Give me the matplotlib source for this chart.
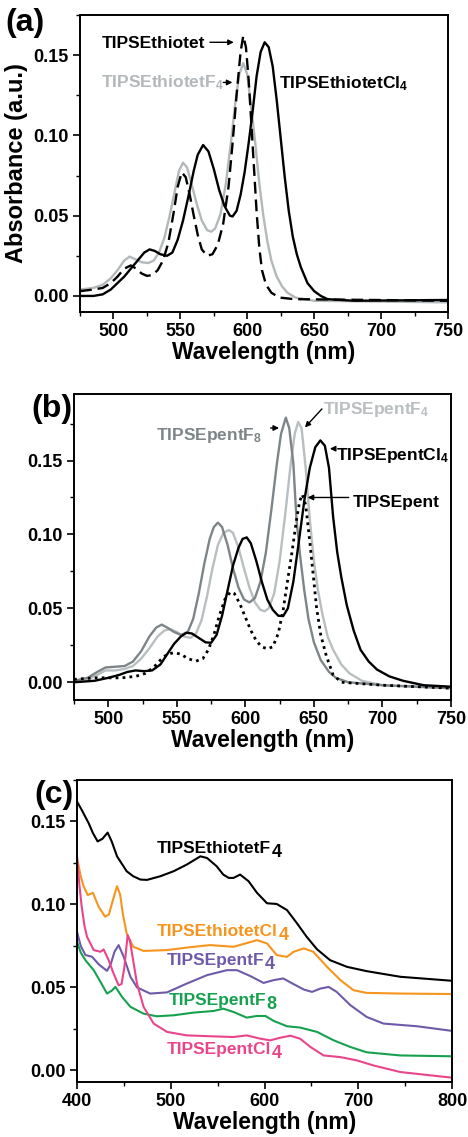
import numpy as np
import matplotlib
matplotlib.use("Agg")
import matplotlib.pyplot as plt
from matplotlib.ticker import MultipleLocator, FormatStrFormatter

plt.rcParams['font.family'] = ['Liberation Sans', 'DejaVu Sans']
plt.rcParams['font.weight'] = 'bold'
plt.rcParams['mathtext.fontset'] = 'custom'
plt.rcParams['mathtext.rm'] = 'Liberation Sans:bold'
plt.rcParams['mathtext.it'] = 'Liberation Sans:bold'
plt.rcParams['mathtext.bf'] = 'Liberation Sans:bold'
plt.rcParams['mathtext.default'] = 'rm'

# ---- panel (a) data ----
a_cl4_x = [475, 485, 492, 498, 503, 508, 513, 518, 523, 527, 531, 535, 540, 544, 548, 552, 556, 560, 563, 567,
           571, 575, 579, 583, 587, 589, 592, 595, 598, 601, 604, 607, 610, 613, 616, 619, 622, 625, 628, 631,
           634, 637, 640, 645, 650, 655, 660, 680, 750]
a_cl4_y = [0.000, 0.000, 0.001, 0.004, 0.008, 0.012, 0.017, 0.022, 0.027, 0.029, 0.028, 0.026, 0.025, 0.027,
           0.035, 0.047, 0.062, 0.078, 0.088, 0.094, 0.090, 0.079, 0.066, 0.056, 0.050, 0.0495, 0.053, 0.063,
           0.077, 0.095, 0.115, 0.137, 0.152, 0.158, 0.155, 0.143, 0.122, 0.098, 0.074, 0.053, 0.037, 0.026,
           0.018, 0.008, 0.003, 0.000, -0.002, -0.003, -0.0025]
a_pure_x = [475, 485, 492, 498, 503, 508, 513, 517, 521, 525, 529, 533, 537, 541, 545, 548, 551, 554, 557, 560,
            563, 566, 570, 574, 578, 582, 586, 589, 592, 595, 597, 599, 601, 603, 605, 607, 609, 611, 614, 618,
            624, 635, 750]
a_pure_y = [0.003, 0.004, 0.005, 0.008, 0.012, 0.017, 0.019, 0.017, 0.014, 0.0125, 0.013, 0.016, 0.022, 0.033,
            0.052, 0.068, 0.077, 0.074, 0.063, 0.050, 0.038, 0.029, 0.025, 0.026, 0.032, 0.045, 0.068, 0.095,
            0.125, 0.152, 0.162, 0.155, 0.135, 0.108, 0.080, 0.052, 0.030, 0.016, 0.007, 0.002, -0.001, -0.002,
            -0.003]
a_f4_x = [475, 485, 492, 498, 503, 508, 512, 516, 521, 526, 530, 534, 538, 542, 546, 549, 552, 555, 558, 562,
          566, 570, 573, 576, 580, 584, 588, 591, 594, 597, 600, 603, 606, 609, 612, 615, 618, 622, 626, 630,
          636, 650, 750]
a_f4_y = [0.004, 0.005, 0.007, 0.011, 0.016, 0.022, 0.0245, 0.023, 0.021, 0.0205, 0.022, 0.027, 0.036, 0.050,
          0.066, 0.078, 0.083, 0.080, 0.071, 0.058, 0.047, 0.041, 0.040, 0.042, 0.051, 0.070, 0.097, 0.120,
          0.138, 0.145, 0.138, 0.117, 0.095, 0.070, 0.050, 0.034, 0.022, 0.012, 0.006, 0.002, -0.001, -0.003,
          -0.004]

# ---- panel (b) data ----
b_f8_x = [475, 485, 492, 498, 505, 512, 518, 524, 530, 535, 539, 543, 548, 553, 558, 562, 566, 570, 574, 577,
          580, 583, 587, 591, 595, 599, 603, 607, 611, 615, 619, 623, 626, 629.5, 632, 635, 637.3, 640, 643,
          646, 650, 655, 661, 666, 675, 700, 750]
b_f8_y = [0.001, 0.003, 0.007, 0.010, 0.0105, 0.011, 0.014, 0.021, 0.031, 0.037, 0.039, 0.037, 0.034, 0.032,
          0.034, 0.043, 0.060, 0.080, 0.097, 0.105, 0.108, 0.105, 0.093, 0.077, 0.064, 0.056, 0.054, 0.057,
          0.068, 0.088, 0.117, 0.148, 0.168, 0.179, 0.172, 0.148, 0.110, 0.085, 0.062, 0.043, 0.027, 0.015,
          0.007, 0.003, 0.000, -0.002, -0.004]
b_f4_x = [475, 485, 492, 498, 505, 512, 518, 524, 530, 536, 541, 545, 550, 555, 560, 564, 568, 572, 576, 580,
          584, 588, 591, 595, 599, 603, 607, 611, 614, 617, 621, 625, 629, 633, 636, 638.5, 641, 644, 647, 650,
          653, 656, 660, 664, 670, 676, 685, 700, 750]
b_f4_y = [0.001, 0.002, 0.005, 0.008, 0.008, 0.009, 0.011, 0.016, 0.023, 0.031, 0.035, 0.036, 0.034, 0.031,
          0.030, 0.033, 0.042, 0.058, 0.077, 0.093, 0.101, 0.103, 0.101, 0.091, 0.077, 0.064, 0.054, 0.049,
          0.048, 0.050, 0.060, 0.082, 0.113, 0.147, 0.168, 0.176, 0.172, 0.145, 0.110, 0.082, 0.062, 0.047,
          0.031, 0.022, 0.012, 0.006, 0.001, -0.002, -0.004]
b_cl4_x = [475, 490, 500, 508, 514, 520, 526, 532, 538, 543, 548, 553, 557, 561, 566, 571, 575, 579, 583, 587,
           591, 595, 598, 601, 604, 608, 612, 616, 620, 624, 627.6, 631, 635, 639, 643, 647, 651, 654.7, 658,
           661, 664, 667, 670, 674, 679, 684, 690, 696, 705, 715, 730, 750]
b_cl4_y = [0.000, 0.001, 0.003, 0.005, 0.007, 0.008, 0.0075, 0.008, 0.012, 0.019, 0.026, 0.031, 0.0335, 0.033,
           0.030, 0.027, 0.0267, 0.032, 0.045, 0.062, 0.079, 0.091, 0.097, 0.098, 0.094, 0.082, 0.068, 0.056,
           0.049, 0.045, 0.0448, 0.050, 0.068, 0.095, 0.123, 0.145, 0.159, 0.1636, 0.160, 0.145, 0.112, 0.088,
           0.071, 0.052, 0.035, 0.022, 0.014, 0.0086, 0.004, 0.001, -0.002, -0.003]
b_pent_x = [475, 490, 500, 510, 520, 527, 533, 538, 543, 548, 553, 558, 564, 569, 573, 577, 581, 585, 589, 592,
            596, 600, 604, 608, 612, 616, 620, 624, 627.6, 631, 634, 637, 639.5, 641.5, 644, 647, 650, 652, 655,
            659, 664, 670, 700, 750]
b_pent_y = [0.002, 0.003, 0.003, 0.003, 0.004, 0.006, 0.010, 0.015, 0.019, 0.020, 0.019, 0.016, 0.0143, 0.016,
            0.022, 0.032, 0.045, 0.056, 0.061, 0.060, 0.053, 0.044, 0.035, 0.028, 0.024, 0.0226, 0.024, 0.033,
            0.049, 0.070, 0.088, 0.108, 0.122, 0.127, 0.120, 0.095, 0.068, 0.050, 0.032, 0.018, 0.005, 0.000,
            -0.002, -0.004]

# ---- panel (c) data ----
c_thf4_x = [400, 405, 412.4, 417, 422, 427, 432.7, 437, 442.7, 453, 460, 467.6, 474.7, 488.9, 503, 517, 531.6,
            538.7, 549, 556, 561.8, 567, 574, 583, 592, 602.7, 613, 624, 634.7, 645, 656, 670, 688, 709, 745, 800]
c_thf4_y = [0.162, 0.157, 0.149, 0.143, 0.138, 0.1395, 0.1433, 0.138, 0.129, 0.120, 0.117, 0.115, 0.1148, 0.117,
            0.120, 0.124, 0.129, 0.128, 0.123, 0.118, 0.116, 0.116, 0.118, 0.114, 0.107, 0.1007, 0.1003, 0.0966,
            0.0886, 0.0805, 0.073, 0.0664, 0.0624, 0.0598, 0.0564, 0.054]
c_thcl4_x = [400, 404, 407, 411.4, 417, 423, 430, 434, 438, 442.7, 446, 449, 453, 460, 471, 496, 517, 542, 567,
             583, 592, 602.7, 613, 624, 631, 642, 652, 666.7, 681, 695, 709, 745, 800]
c_thcl4_y = [0.128, 0.117, 0.111, 0.1057, 0.107, 0.0987, 0.0926, 0.094, 0.102, 0.111, 0.106, 0.094, 0.0825,
             0.0745, 0.072, 0.0725, 0.074, 0.0755, 0.0745, 0.077, 0.0785, 0.0765, 0.0695, 0.0684, 0.0715, 0.0735,
             0.0715, 0.0624, 0.0544, 0.0483, 0.0467, 0.0463, 0.046]
c_pf4_x = [400, 404, 409, 416, 423, 432, 436, 440, 444.4, 449.8, 457, 464, 478, 496, 517, 538.7, 560, 570.7, 585,
           599, 609.8, 620, 631, 642, 650.7, 659.6, 668.4, 677, 691.6, 709, 727, 762.7, 800]
c_pf4_y = [0.0835, 0.075, 0.0695, 0.0685, 0.064, 0.060, 0.064, 0.0715, 0.0755, 0.0685, 0.0564, 0.050, 0.0463,
           0.047, 0.0523, 0.0574, 0.0604, 0.0604, 0.0568, 0.0527, 0.0544, 0.0554, 0.052, 0.0487, 0.0473, 0.0493,
           0.0503, 0.0473, 0.0393, 0.0322, 0.0282, 0.0266, 0.0238]
c_pf8_x = [400, 404, 409, 417.8, 425, 432, 437, 441, 448, 457, 471, 485, 503, 524, 545.8, 556, 567, 581, 592,
           601, 609.8, 624, 638, 656, 673.8, 691.6, 709, 745, 800]
c_pf8_y = [0.0775, 0.071, 0.0664, 0.0604, 0.0534, 0.0463, 0.048, 0.0503, 0.0443, 0.0383, 0.0342, 0.0326, 0.0332,
           0.0348, 0.0358, 0.0372, 0.0352, 0.0318, 0.0328, 0.0328, 0.0298, 0.0266, 0.0258, 0.0232, 0.0181,
           0.0141, 0.0109, 0.009, 0.0085]
c_pcl4_x = [400, 402.5, 405, 408, 410.7, 417.8, 425, 428.4, 433.8, 439, 444.4, 447.5, 450.5, 454, 456.5, 460,
            464, 471, 481.8, 496, 517, 545.8, 567, 581, 595.6, 606, 617, 627.6, 638, 649, 663, 681, 698.7, 716,
            745, 800]
c_pcl4_y = [0.129, 0.112, 0.0987, 0.087, 0.0805, 0.0725, 0.0715, 0.0729, 0.0664, 0.0584, 0.0513, 0.052, 0.062,
            0.0815, 0.078, 0.066, 0.0523, 0.0383, 0.0282, 0.0232, 0.0211, 0.0205, 0.0201, 0.0211, 0.0191,
            0.0181, 0.0197, 0.0209, 0.0191, 0.0141, 0.009, 0.008, 0.006, 0.003, -0.001, -0.0044]

GREY_A = '#b3b8bb'
DARK_B = '#7e8588'
LIGHT_B = '#b9bec0'
ORANGE = '#f7941d'
PURPLE = '#6e5aa8'
GREEN = '#15a14e'
PINK = '#e9458b'

W, H = 468, 1137
fig = plt.figure(figsize=(W / 100, H / 100), dpi=100)


def px_axes(l, t, r, b):
    return fig.add_axes([l / W, 1 - b / H, (r - l) / W, (b - t) / H])


def style(ax, xmaj, xmin):
    ax.xaxis.set_major_locator(MultipleLocator(xmaj))
    ax.xaxis.set_minor_locator(MultipleLocator(xmin))
    ax.yaxis.set_major_locator(MultipleLocator(0.05))
    ax.yaxis.set_minor_locator(MultipleLocator(0.025))
    ax.yaxis.set_major_formatter(FormatStrFormatter('%.2f'))
    ax.tick_params(which='major', direction='out', length=5, width=1.2, labelsize=13, pad=3)
    ax.tick_params(which='minor', direction='out', length=3, width=1.0)
    for s in ax.spines.values():
        s.set_linewidth(1.4)
    ax.set_xlabel('Wavelength (nm)', fontsize=16.5, fontweight='bold', labelpad=1)


# (a)
ax1 = px_axes(80, 15, 448, 312)
ax1.plot(a_f4_x, a_f4_y, color=GREY_A, lw=1.7)
ax1.plot(a_pure_x, a_pure_y, color='k', lw=1.7, ls=(0, (5, 2.5)))
ax1.plot(a_cl4_x, a_cl4_y, color='k', lw=1.7)
ax1.set_xlim(475, 750)
ax1.set_ylim(-0.01, 0.175)
style(ax1, 50, 25)
ax1.set_ylabel('Absorbance (a.u.)', fontsize=17, fontweight='bold', labelpad=4)
ax1.text(491, 0.157, 'TIPSEthiotet', fontsize=12.5, va='center', ha='left')
ax1.annotate('', xy=(592, 0.158), xytext=(570, 0.158),
             arrowprops=dict(arrowstyle='-|>', color='k', lw=1, mutation_scale=8))
ax1.text(491, 0.133, 'TIPSEthiotetF$_4$', fontsize=12.5, va='center', ha='left', color=GREY_A)
ax1.annotate('', xy=(591, 0.133), xytext=(580, 0.133),
             arrowprops=dict(arrowstyle='-|>', color='k', lw=1, mutation_scale=8))
ax1.text(624, 0.132, 'TIPSEthiotetCl$_4$', fontsize=12.5, va='center', ha='left')
fig.text(25 / W, 1 - 23 / H, '(a)', fontsize=23, fontweight='bold', ha='center', va='center')

# (b)
ax2 = px_axes(74, 394, 451, 700)
ax2.plot(b_f4_x, b_f4_y, color=LIGHT_B, lw=1.7)
ax2.plot(b_f8_x, b_f8_y, color=DARK_B, lw=1.7)
ax2.plot(b_pent_x, b_pent_y, color='k', lw=2, ls=(0, (1, 1.5)))
ax2.plot(b_cl4_x, b_cl4_y, color='k', lw=1.7)
ax2.set_xlim(475, 750)
ax2.set_ylim(-0.012, 0.195)
style(ax2, 50, 25)
ax2.text(534.5, 0.167, 'TIPSEpentF$_8$', fontsize=12.5, va='center', ha='left', color=DARK_B)
ax2.annotate('', xy=(626.6, 0.172), xytext=(616.4, 0.172),
             arrowprops=dict(arrowstyle='-|>', color='k', lw=1, mutation_scale=8))
ax2.text(656.5, 0.1847, 'TIPSEpentF$_4$', fontsize=12.5, va='center', ha='left', color=LIGHT_B)
ax2.annotate('', xy=(642.1, 0.171), xytext=(657.2, 0.1863),
             arrowprops=dict(arrowstyle='-|>', color='k', lw=1, mutation_scale=8))
ax2.text(666, 0.1534, 'TIPSEpentCl$_4$', fontsize=12.5, va='center', ha='left')
ax2.annotate('', xy=(659.6, 0.158), xytext=(666.9, 0.158),
             arrowprops=dict(arrowstyle='-|>', color='k', lw=1, mutation_scale=8))
ax2.text(678.4, 0.1218, 'TIPSEpent', fontsize=12.5, va='center', ha='left')
ax2.annotate('', xy=(643.4, 0.125), xytext=(677.4, 0.125),
             arrowprops=dict(arrowstyle='-|>', color='k', lw=1, mutation_scale=8))
fig.text(52 / W, 1 - 409 / H, '(b)', fontsize=23, fontweight='bold', ha='center', va='center')

# (c)
ax3 = px_axes(77, 780, 452, 1082)
ax3.plot(c_thf4_x, c_thf4_y, color='k', lw=1.5)
ax3.plot(c_thcl4_x, c_thcl4_y, color=ORANGE, lw=1.5)
ax3.plot(c_pf4_x, c_pf4_y, color=PURPLE, lw=1.5)
ax3.plot(c_pf8_x, c_pf8_y, color=GREEN, lw=1.5)
ax3.plot(c_pcl4_x, c_pcl4_y, color=PINK, lw=1.5)
ax3.set_xlim(400, 800)
ax3.set_ylim(-0.007, 0.175)
style(ax3, 100, 50)

c_labels = [('TIPSEthiotetF', '4', 485.3, 0.134, 'k'),
            ('TIPSEthiotetCl', '4', 485.3, 0.0835, ORANGE),
            ('TIPSEpentF', '4', 496, 0.0664, PURPLE),
            ('TIPSEpentF', '8', 497.8, 0.0423, GREEN),
            ('TIPSEpentCl', '4', 496, 0.0125, PINK)]
for main, sub, lx, ly, col in c_labels:
    t = ax3.text(lx, ly, main, fontsize=12.5, va='center', ha='left', color=col)
    ax3.annotate(sub, xy=(1.0, 0.0), xycoords=t, xytext=(0.3, -0.8), textcoords='offset points',
                 fontsize=13, va='baseline', ha='left', color=col, fontweight='bold')
fig.text(54 / W, 1 - 795 / H, '(c)', fontsize=23, fontweight='bold', ha='center', va='center')

fig.savefig('out.png', dpi=100)
